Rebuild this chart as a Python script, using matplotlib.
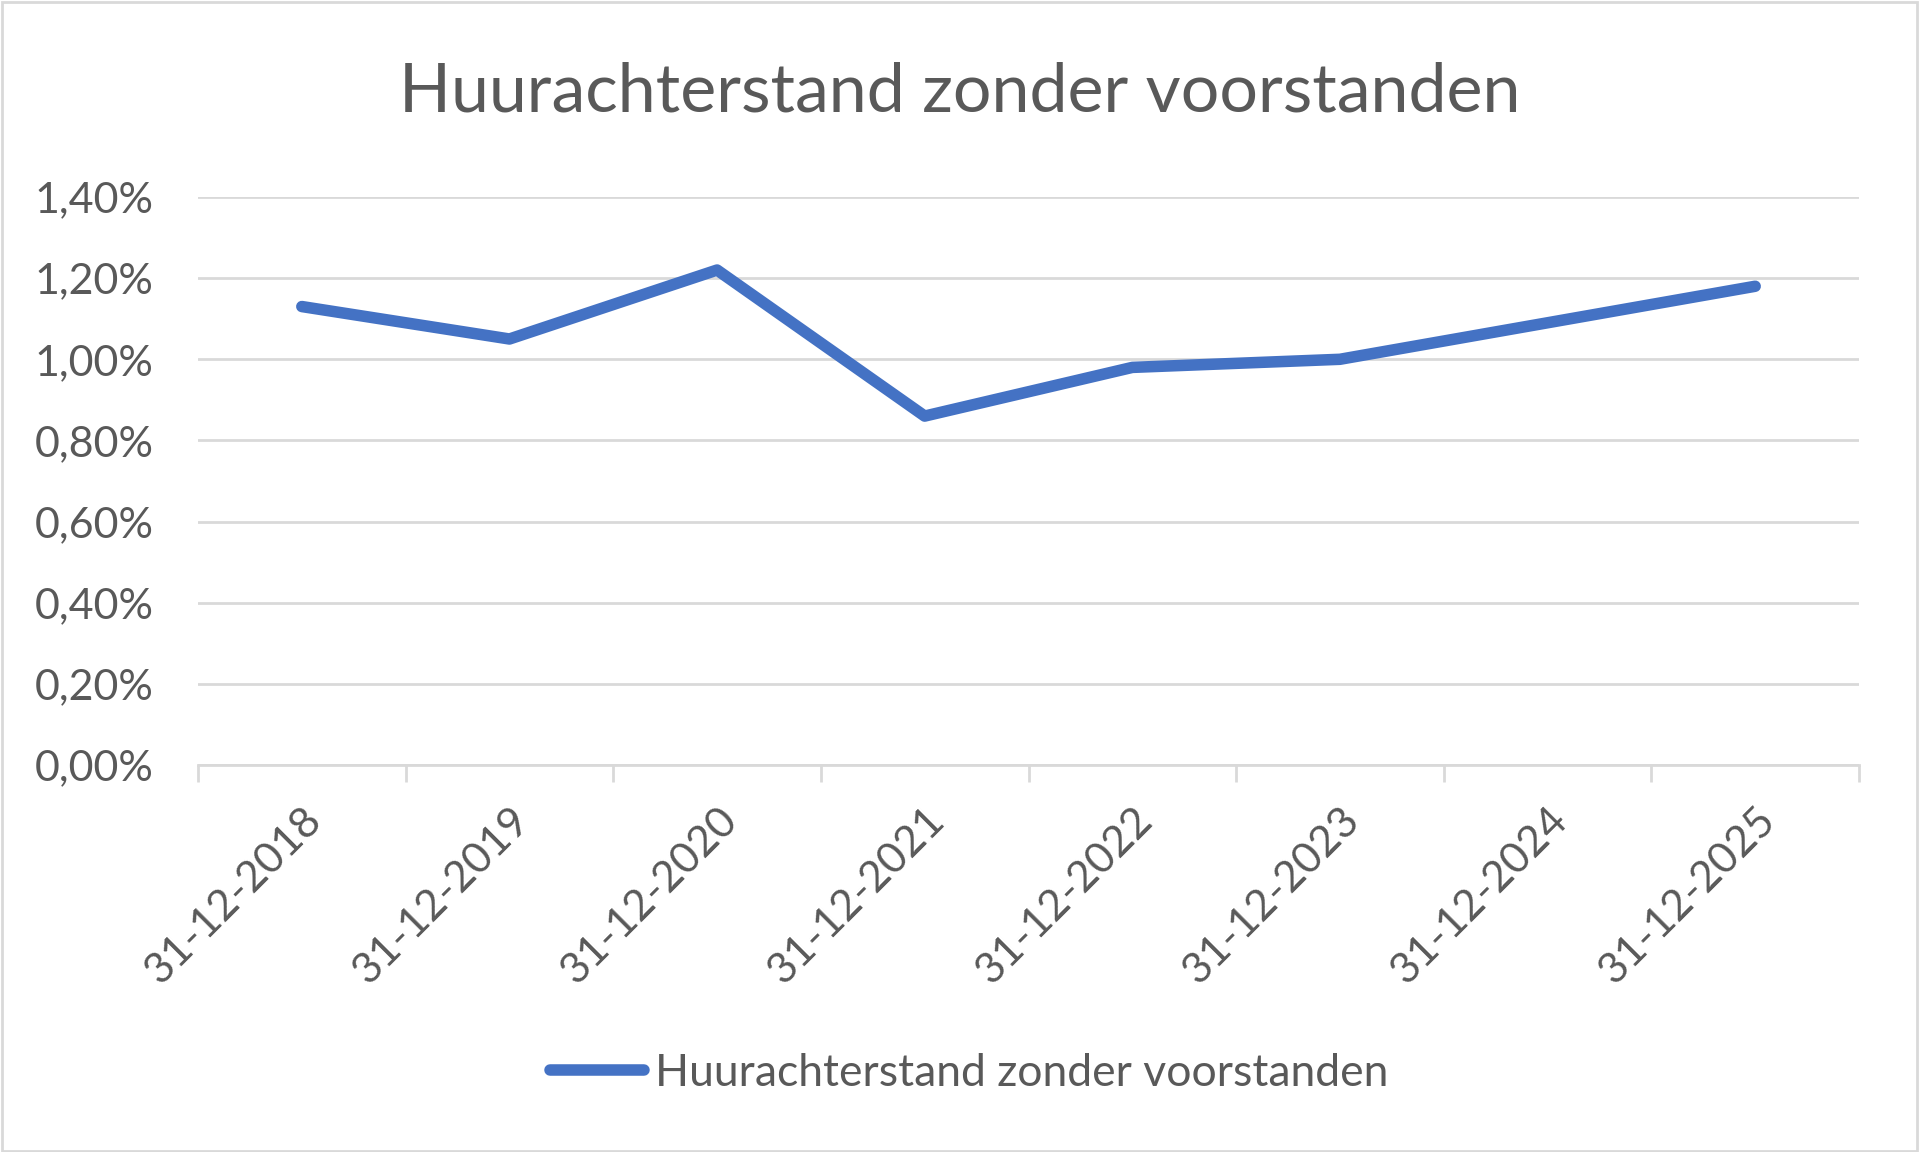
import matplotlib
matplotlib.use("Agg")
import matplotlib.pyplot as plt
from matplotlib.patches import Rectangle
from matplotlib.lines import Line2D

categories = ["31-12-2018", "31-12-2019", "31-12-2020", "31-12-2021",
              "31-12-2022", "31-12-2023", "31-12-2024", "31-12-2025"]
values = [1.13, 1.05, 1.22, 0.86, 0.98, 1.00, 1.09, 1.18]
yticks = [0.0, 0.2, 0.4, 0.6, 0.8, 1.0, 1.2, 1.4]
series_name = "Huurachterstand zonder voorstanden"
title = "Huurachterstand zonder voorstanden"

TXT = "#595959"
GRID = "#D9D9D9"
BLUE = "#4472C4"
FONT = "Lato"

W, H = 1919, 1152
fig = plt.figure(figsize=(W / 100, H / 100), dpi=100)
fig.patch.set_facecolor("white")
fig.add_artist(Rectangle((0.001, 0.001), 0.998, 0.997, transform=fig.transFigure,
                         fill=False, edgecolor="#D9D9D9", linewidth=2))

left, right = 198 / W, 1859 / W
bottom, top = 1 - 765 / H, 1 - 197 / H
ax = fig.add_axes([left, bottom, right - left, top - bottom])

x = list(range(len(categories)))
ax.plot(x, values, color=BLUE, linewidth=8.3, solid_capstyle="round",
        solid_joinstyle="round", zorder=3)

ax.set_xlim(-0.5, len(categories) - 0.5)
ax.set_ylim(0, 1.4)
ax.set_yticks(yticks)
ax.set_yticklabels([f"{v:.2f}%".replace(".", ",") for v in yticks],
                   fontsize=31, color=TXT, family=FONT)
ax.tick_params(axis="y", length=0, pad=32)
ax.yaxis.grid(True, color=GRID, linewidth=2)
ax.set_axisbelow(True)

ax.set_xticks(x)
ax.set_xticklabels(categories, rotation=45, ha="right", rotation_mode="anchor",
                   fontsize=31, color=TXT, family=FONT)
ax.tick_params(axis="x", which="major", length=0, pad=26)
ax.set_xticks([i - 0.5 for i in range(len(categories) + 1)], minor=True)
ax.tick_params(axis="x", which="minor", length=12, width=2, color=GRID)

for s in ["top", "right", "left"]:
    ax.spines[s].set_visible(False)
ax.spines["bottom"].set_color(GRID)
ax.spines["bottom"].set_linewidth(2)

fig.text(0.5, 1 - 92 / H, title, ha="center", va="center",
         fontsize=49, color=TXT, family=FONT)

handle = Line2D([0], [0], color=BLUE, linewidth=8.3, solid_capstyle="round")
fig.legend([handle], [series_name], loc="center", bbox_to_anchor=(0.505, 1 - 1073 / H),
           frameon=False, handlelength=2.1, handletextpad=0.25,
           labelcolor=TXT, prop={"family": FONT, "size": 32})

fig.savefig("out.png", dpi=100, facecolor="white")
